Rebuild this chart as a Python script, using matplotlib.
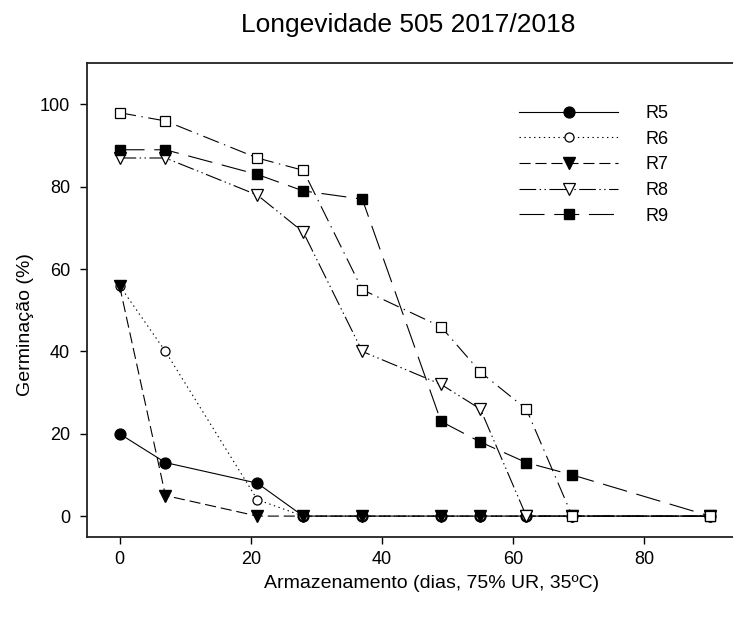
import numpy as np
import matplotlib
matplotlib.use("Agg")
import matplotlib.pyplot as plt

plt.rcParams['font.family'] = ['Liberation Sans', 'DejaVu Sans']
plt.rcParams['lines.scale_dashes'] = False

# storage time (days) and germination (%) per treatment
dias = [0, 7, 21, 28, 37, 49, 55, 62, 69, 90]
r5 = [20, 13, 8, 0, 0, 0, 0, 0, 0, 0]
r6 = [56, 40, 4, 0, 0, 0, 0, 0, 0, 0]
r7 = [56, 5, 0, 0, 0, 0, 0, 0, 0, 0]
r8 = [87, 87, 78, 69, 40, 32, 26, 0, 0, 0]
r9 = [89, 89, 83, 79, 77, 23, 18, 13, 10, 0]
r10 = [98, 96, 87, 84, 55, 46, 35, 26, 0, 0]

xticks = [0, 20, 40, 60, 80]
yticks = [0, 20, 40, 60, 80, 100]

fig = plt.figure(figsize=(7.33, 6.19), dpi=100)
ax = fig.add_axes([0.1183, 0.133, 0.8817, 0.7647])

lw = 0.8
ax.plot(dias, r5, color='k', lw=lw, ls='-', marker='o', ms=7.8,
        mfc='k', mec='k', label='R5')
ax.plot(dias, r6, color='k', lw=lw, ls=(0, (1, 2.5)), marker='o', ms=6.5,
        mfc='white', mec='k', mew=0.9, label='R6')
ax.plot(dias, r7, color='k', lw=lw, ls=(0, (8, 3.5)), marker='v', ms=8.5,
        mfc='k', mec='k', label='R7')
ax.plot(dias, r8, color='k', lw=lw, ls=(0, (12, 2.5, 1, 2.5, 1, 2.5)),
        marker='v', ms=8.5, mfc='white', mec='k', mew=0.9, label='R8')
ax.plot(dias, r9, color='k', lw=lw, ls=(0, (18, 7)), marker='s', ms=7.2,
        mfc='k', mec='k', label='R9')
ax.plot(dias, r10, color='k', lw=lw, ls=(0, (12, 4, 1, 4)), marker='s',
        ms=6.8, mfc='white', mec='k', mew=0.9, label='_nolegend_')

ax.set_xlim(-5, 93.5)
ax.set_ylim(-5, 110)
ax.set_xticks(xticks)
ax.set_yticks(yticks)
ax.tick_params(direction='out', length=5, width=1, labelsize=13,
               colors='k')
ax.tick_params(axis='y', pad=7)
ax.tick_params(axis='x', pad=5)
ax.spines['right'].set_visible(False)
for s in ['left', 'bottom', 'top']:
    ax.spines[s].set_linewidth(1.3)
    ax.spines[s].set_color('#222222')

fig.text(408 / 733, 1 - 25 / 619, 'Longevidade 505 2017/2018',
         ha='center', va='center', fontsize=19)
fig.text(432 / 733, 1 - 583 / 619, 'Armazenamento (dias, 75% UR, 35ºC)',
         ha='center', va='center', fontsize=14)
fig.text(25 / 733, 1 - 325 / 619, 'Germinação (%)', rotation=90,
         ha='center', va='center', fontsize=14)

leg = ax.legend(loc='upper left', frameon=False, fontsize=13,
                handlelength=5.5, handletextpad=1.5, labelspacing=0.48,
                borderaxespad=0, borderpad=0)
leg.set_bbox_to_anchor((519 / 733, 1 - 105 / 619), transform=fig.transFigure)

fig.savefig('out.png', dpi=100)
